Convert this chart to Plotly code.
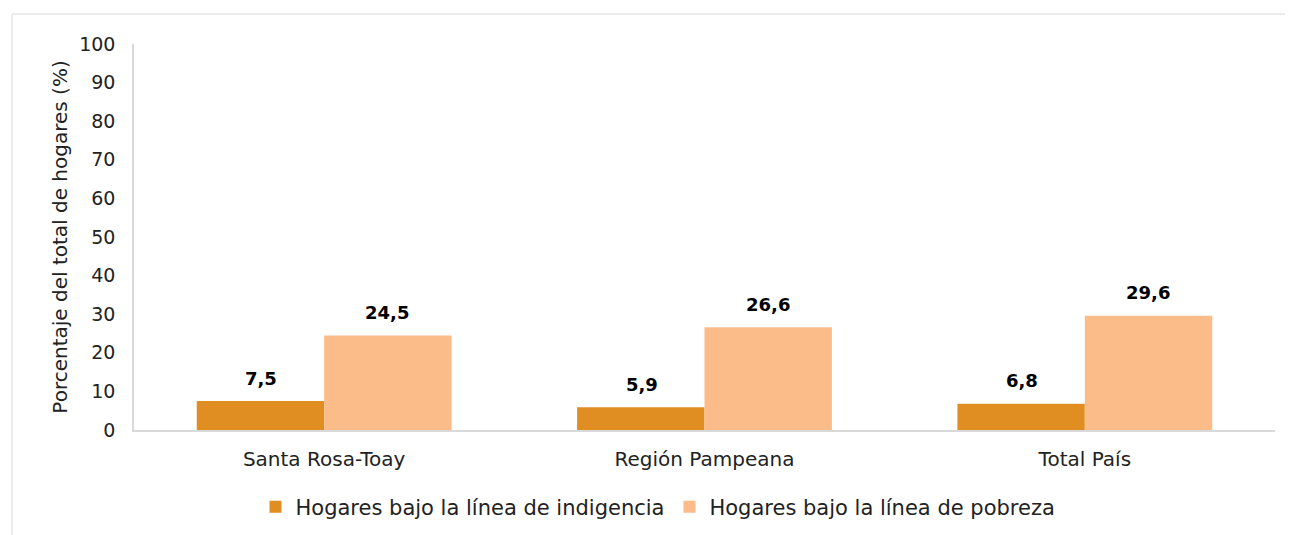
import plotly.graph_objects as go

categories = ["Santa Rosa-Toay", "Región Pampeana", "Total País"]
indigencia = [7.5, 5.9, 6.8]
pobreza = [24.5, 26.6, 29.6]
series_names = ["Hogares bajo la línea de indigencia", "Hogares bajo la línea de pobreza"]
y_ticks = [0, 10, 20, 30, 40, 50, 60, 70, 80, 90, 100]

def fmt(v):
    return f"{v:.1f}".replace(".", ",")

FONT = "DejaVu Sans"
C1 = "#E08E22"
C2 = "#FBBC8A"
TXT = "#222222"

fig = go.Figure()
fig.add_trace(go.Bar(x=categories, y=indigencia, name=series_names[0], marker=dict(color=C1, line=dict(width=0))))
fig.add_trace(go.Bar(x=categories, y=pobreza, name=series_names[1], marker=dict(color=C2, line=dict(width=0))))

annotations = []
for cat, a, b in zip(categories, indigencia, pobreza):
    annotations.append(dict(x=cat, y=a, text=f"<b>{fmt(a)}</b>", showarrow=False, xshift=-63,
                            yshift=23, yanchor="middle", font=dict(family=FONT, size=18, color="#000")))
    annotations.append(dict(x=cat, y=b, text=f"<b>{fmt(b)}</b>", showarrow=False, xshift=63,
                            yshift=23, yanchor="middle", font=dict(family=FONT, size=18, color="#000")))

# page body has an 8px offset
OFF = 8
W, H = 1293 - OFF, 535 - OFF
L, T = 134 - OFF, 44 - OFF
R = W - (1275 - OFF)
B = H - (430 - OFF)
pw, ph = W - L - R, H - T - B

def px_to_paper(x, y):
    x -= OFF
    y -= OFF
    return (x - L) / pw, (H - B - y) / ph

x0, y0 = px_to_paper(12, 14)
x1, y1 = px_to_paper(1300, 545)
_, leg_y = px_to_paper(0, 507)
leg_x, _ = px_to_paper(658, 0)

fig.update_layout(
    width=W, height=H,
    margin=dict(l=L, r=R, t=T, b=B, autoexpand=False),
    paper_bgcolor="white", plot_bgcolor="white",
    barmode="group", bargap=0.33, bargroupgap=0,
    font=dict(family=FONT, size=20, color=TXT),
    annotations=annotations,
    showlegend=True,
    legend=dict(orientation="h", x=leg_x, xanchor="center", y=leg_y, yanchor="middle",
                font=dict(family=FONT, size=21, color=TXT), itemwidth=30, traceorder="normal"),
    shapes=[dict(type="rect", xref="paper", yref="paper", x0=x0, y0=y0, x1=x1, y1=y1,
                 line=dict(color="#D9D9D9", width=1), fillcolor="rgba(0,0,0,0)", layer="below")],
    xaxis=dict(showline=True, linecolor="#D9D9D9", linewidth=1.5, ticks="", showgrid=False,
               tickfont=dict(family=FONT, size=20, color=TXT), ticklabelstandoff=10),
    yaxis=dict(range=[0, 100], tickvals=y_ticks, showline=True, linecolor="#D9D9D9", linewidth=1.5,
               ticks="", showgrid=False, zeroline=False,
               tickfont=dict(family=FONT, size=19, color=TXT), ticklabelstandoff=13,
               title=dict(text="Porcentaje del total de hogares (%)", standoff=6,
                          font=dict(family=FONT, size=20, color=TXT))),
)

fig.write_html("out.html")
